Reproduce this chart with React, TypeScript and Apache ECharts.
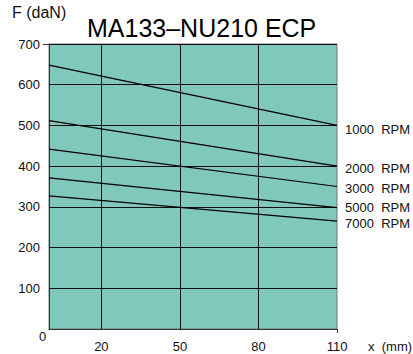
import React, { useEffect, useRef } from 'react';
import * as echarts from 'echarts';

const rpmNames = ['1000', '2000', '3000', '5000', '7000'];
const xPoints = [0, 110];
const forceStart = [648, 512, 442, 371, 327];
const forceEnd = [500, 400, 350, 298, 265];
const xTickLabels = [20, 50, 80, 110];
const xGridLines = [20, 50, 80];
const yTickLabels = [0, 100, 200, 300, 400, 500, 600, 700];
const yGridLines = [100, 200, 300, 400, 500, 600, 700];
const labelOffsets = [[0, 4], [0, 2], [0, 2], [0, 0], [0, 2]];

const FONT = 'Liberation Sans, Arial, Helvetica, sans-serif';

export default function App() {
  const ref = useRef<HTMLDivElement>(null);
  useEffect(() => {
    if (!ref.current) return;
    const chart = echarts.init(ref.current, null, { renderer: 'svg' });
    const series: any[] = rpmNames.map((name, i) => ({
      type: 'line',
      name: `${name}  RPM`,
      data: xPoints.map((x, j) => [x, j === 0 ? forceStart[i] : forceEnd[i]]),
      symbol: 'none',
      silent: true,
      lineStyle: { color: '#000', width: 1.2 },
      endLabel: {
        show: true,
        formatter: '{a}',
        fontSize: 13,
        fontFamily: FONT,
        color: '#111',
        distance: 8,
        offset: labelOffsets[i],
      },
      z: 5,
    }));
    series.push({
      type: 'line',
      data: [],
      markLine: {
        silent: true,
        symbol: 'none',
        label: { show: false },
        lineStyle: { color: '#111', width: 1, type: 'solid' },
        data: [
          ...xGridLines.map((v) => ({ xAxis: v })),
          ...yGridLines.map((v) => ({ yAxis: v })),
        ],
      },
    });
    chart.setOption({
      animation: false,
      title: {
        text: 'MA133\u2013NU210 ECP',
        left: 82,
        top: 10,
        textStyle: { fontSize: 25, fontWeight: 'normal', color: '#000', fontFamily: FONT },
      },
      grid: {
        left: 49,
        top: 44,
        width: 288,
        height: 285,
        show: true,
        backgroundColor: '#7fc8bb',
        borderColor: '#777',
        borderWidth: 1,
      },
      xAxis: {
        type: 'value',
        min: 0,
        max: 110,
        interval: 10,
        axisLine: { show: true, lineStyle: { color: '#333', width: 1 } },
        axisTick: { show: true, customValues: [110], length: 4, lineStyle: { color: '#333' } },
        axisLabel: {
          customValues: xTickLabels,
          fontSize: 13,
          fontFamily: FONT,
          color: '#111',
          margin: 11,
        },
        splitLine: { show: false },
      },
      yAxis: {
        type: 'value',
        min: 0,
        max: 700,
        interval: 100,
        axisLine: { show: true, lineStyle: { color: '#333', width: 1 } },
        axisTick: { show: true, customValues: [700], length: 6, lineStyle: { color: '#333' } },
        axisLabel: {
          customValues: yTickLabels,
          formatter: (v: number) => (v === 0 ? '' : String(v)),
          fontSize: 13,
          fontFamily: FONT,
          color: '#111',
          margin: 9,
        },
        splitLine: { show: false },
      },
      graphic: [
        {
          type: 'text',
          left: 12,
          top: 4,
          style: { text: 'F (daN)', fontSize: 16, fontFamily: FONT, fill: '#111' },
        },
        {
          type: 'text',
          left: 368,
          top: 340,
          style: { text: 'x  (mm)', fontSize: 13, fontFamily: FONT, fill: '#111' },
        },
        {
          type: 'text',
          left: 39,
          top: 330,
          style: { text: '0', fontSize: 13, fontFamily: FONT, fill: '#111' },
        },
      ],
      series,
    });
    return () => chart.dispose();
  }, []);
  return <div ref={ref} style={{ width: 413, height: 354, position: 'absolute', left: 0, top: 0 }} />;
}
